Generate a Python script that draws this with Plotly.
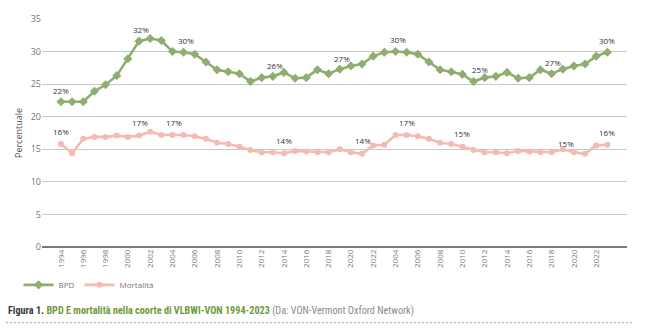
import plotly.graph_objects as go

years_a = list(range(1994, 2024))
years_b = list(range(2004, 2024))
categories = [str(y) for y in years_a + years_b]

bpd = [22.3, 22.3, 22.3, 23.9, 24.9, 26.3, 28.9, 31.6, 32.0, 31.7,
       30.0, 29.9, 29.6, 28.4, 27.2, 26.9, 26.6, 25.4, 26.0, 26.2,
       26.8, 25.9, 26.0, 27.2, 26.6, 27.3, 27.8, 28.1, 29.3, 29.9,
       30.0, 29.9, 29.6, 28.4, 27.2, 26.9, 26.5, 25.4, 26.0, 26.2,
       26.8, 25.9, 26.0, 27.2, 26.6, 27.3, 27.8, 28.1, 29.3, 29.9]

mort = [15.8, 14.4, 16.6, 16.9, 16.9, 17.1, 16.9, 17.1, 17.7, 17.2,
        17.2, 17.2, 17.0, 16.6, 16.0, 15.8, 15.4, 14.9, 14.55, 14.55,
        14.4, 14.75, 14.65, 14.55, 14.55, 15.0, 14.55, 14.3, 15.6, 15.7,
        17.2, 17.2, 17.0, 16.6, 16.0, 15.8, 15.4, 14.9, 14.55, 14.55,
        14.4, 14.75, 14.65, 14.55, 14.55, 15.0, 14.55, 14.3, 15.6, 15.7]

# data labels: (category index, label value position, text)
bpd_lbl_idx = [0, 7.2, 11.2, 19.2, 25.2, 30.2, 37.6, 44.1, 49]
bpd_lbl_y = [24.1, 33.4, 31.7, 27.9, 29.0, 31.8, 27.2, 28.3, 31.7]
bpd_lbl_txt = ["22%", "32%", "30%", "26%", "27%", "30%", "25%", "27%", "30%"]

mort_lbl_idx = [0, 7.1, 10.1, 20, 27.1, 31, 36, 45.3, 49]
mort_lbl_y = [17.8, 19.1, 19.1, 16.4, 16.3, 19.1, 17.4, 15.9, 17.6]
mort_lbl_txt = ["16%", "17%", "17%", "14%", "14%", "17%", "15%", "15%", "16%"]

y_ticks = [0, 5, 10, 15, 20, 25, 30, 35]

GREEN = "#8fad6f"
PINK = "#f5bbb0"

xs = list(range(len(categories)))
tickvals = xs[::2]
ticktext = categories[::2]

fig = go.Figure()
fig.add_trace(go.Scatter(x=xs, y=bpd, mode="lines+markers", name="BPD",
                         line=dict(color=GREEN, width=2.6),
                         marker=dict(symbol="diamond", size=7, color=GREEN)))
fig.add_trace(go.Scatter(x=xs, y=mort, mode="lines+markers", name="Mortalità",
                         line=dict(color=PINK, width=2.6),
                         marker=dict(symbol="circle", size=6, color=PINK)))

for xi, yi, t in zip(bpd_lbl_idx + mort_lbl_idx, bpd_lbl_y + mort_lbl_y,
                     bpd_lbl_txt + mort_lbl_txt):
    fig.add_annotation(x=xi, y=yi, text=t, showarrow=False, xref="x", yref="y",
                       font=dict(family="Open Sans, sans-serif", size=8, color="#333333"))

fig.add_annotation(
    xref="paper", yref="paper", x=-0.0615, y=-0.28, xanchor="left", yanchor="middle",
    showarrow=False,
    text=("<b><span style='color:#3a3a3a'>Figura 1.</span> "
          "<span style='color:#6f9a3c'>BPD E mortalità nella coorte di VLBWI-VON 1994-2023</span></b> "
          "<span style='color:#8a8a8a'>(Da: VON-Vermont Oxford Network)</span>"),
    font=dict(family="Liberation Sans Narrow, Roboto Condensed, Arial Narrow, sans-serif",
              size=10.2, color="#3a3a3a"))

fig.add_shape(type="line", xref="paper", yref="paper", x0=-0.0615, x1=1.0085,
              y0=-0.332, y1=-0.332, line=dict(color="#a0a0a0", width=1, dash="2px,2px"))

fig.update_layout(
    width=646, height=332,
    margin=dict(l=42, r=19, t=12, b=85),
    paper_bgcolor="white", plot_bgcolor="white",
    font=dict(family="Open Sans, sans-serif", color="#777777"),
    showlegend=True,
    legend=dict(orientation="h", x=-0.04, y=-0.166, xanchor="left", yanchor="middle",
                font=dict(size=8, color="#777777"), itemwidth=30, tracegroupgap=0),
    xaxis=dict(range=[-1.7, 50.76], tickmode="array", tickvals=tickvals,
               ticktext=ticktext, tickangle=-90, showgrid=False, zeroline=False,
               showline=False, ticks="", tickfont=dict(size=8, color="#777777")),
    yaxis=dict(range=[0, 35], tickvals=y_ticks, showgrid=True, gridcolor="#c8c8c8",
               gridwidth=1, zeroline=True, zerolinecolor="#7a7a7a", zerolinewidth=2,
               showline=False, ticks="", tickfont=dict(size=9, color="#777777"),
               title=dict(text="Percentuale", font=dict(size=9, color="#555555"), standoff=6)),
)

fig.write_html("out.html")
